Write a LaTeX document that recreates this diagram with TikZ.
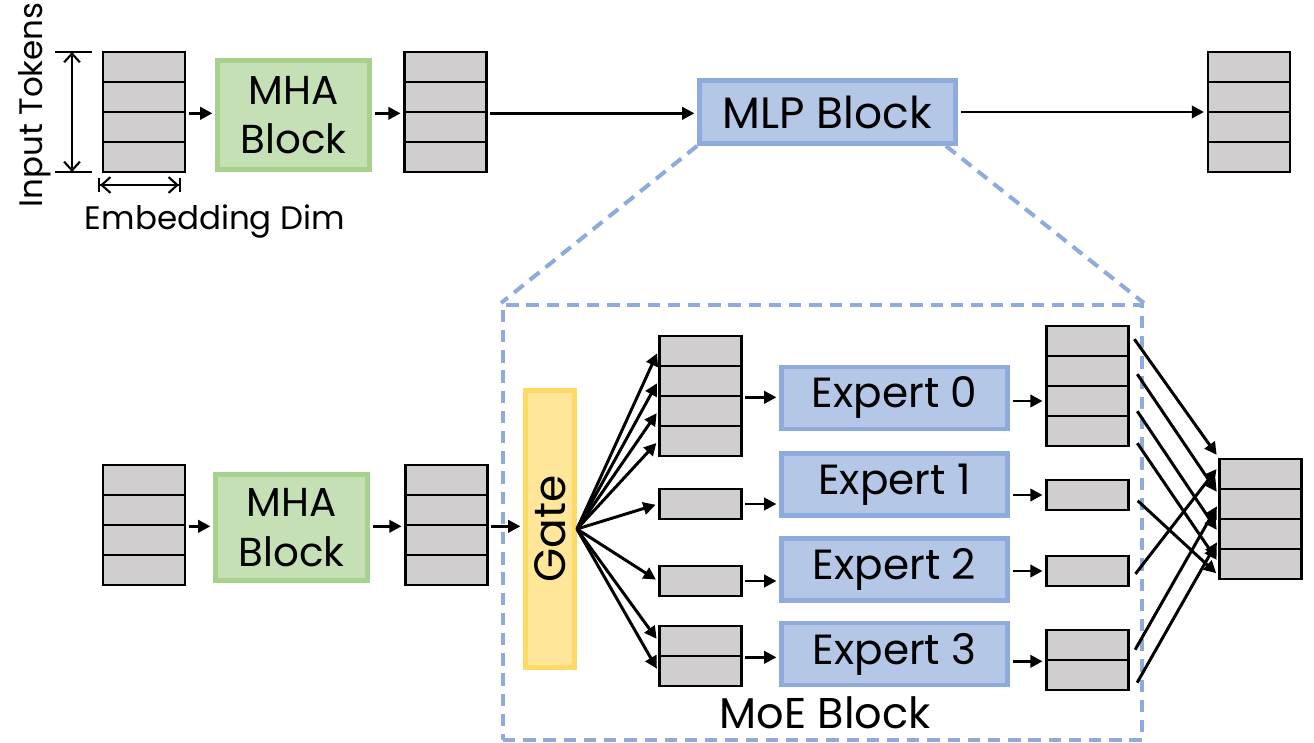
\documentclass[tikz,border=0pt]{standalone}
\usepackage{fontspec}
\setmainfont{Poppins}
\usetikzlibrary{arrows.meta,calc}

\definecolor{cellgray}{HTML}{D0CECE}
\definecolor{mhafill}{HTML}{C5E0B4}
\definecolor{mhaline}{HTML}{A9D18E}
\definecolor{mlpfill}{HTML}{B4C7E7}
\definecolor{mlpline}{HTML}{8FAADC}
\definecolor{gatefill}{HTML}{FFE699}
\definecolor{gateline}{HTML}{FFD966}

\begin{document}
\begin{tikzpicture}[x=0.02cm,y=-0.02cm,
  cell/.style={shape=rectangle,draw=black,fill=cellgray,line width=1.5pt,minimum width=1.64cm,minimum height=0.6cm,inner sep=0pt},
  mha/.style={shape=rectangle,draw=mhaline,fill=mhafill,line width=2.8pt,minimum width=3.04cm,align=center,font=\fontsize{23}{28}\selectfont},
  block/.style={shape=rectangle,draw=mlpline,fill=mlpfill,line width=2.8pt,font=\fontsize{24}{28}\selectfont},
  gatebox/.style={shape=rectangle,draw=gateline,fill=gatefill,line width=2.8pt,inner sep=0pt,minimum width=0.98cm,minimum height=5.54cm,font=\fontsize{25}{28}\selectfont},
  moebox/.style={shape=rectangle,draw=mlpline,line width=2.3pt,dash pattern=on 7pt off 4.5pt,minimum width=12.78cm,minimum height=8.7cm},
  dashline/.style={draw=mlpline,line width=2.3pt,dash pattern=on 7pt off 4.5pt},
  arr/.style={-{Triangle[length=7pt,width=7pt]},draw=black,line width=1.7pt,shorten <=1.5pt,shorten >=1.5pt},
  dim/.style={draw=black,line width=1.2pt},
  small/.style={font=\fontsize{18.5}{20}\selectfont}]
\useasboundingbox (0,0) rectangle (1314,743);

% zoomed MoE region (behind everything)
\node[moebox] (moe) at (822.5,522.5) {};

% top row
\node[cell] (ti1) at (144,67) {};
\node[cell] (ti2) at (144,97) {};
\node[cell] (ti3) at (144,127) {};
\node[cell] (ti4) at (144,157) {};
\node[mha,minimum height=2.18cm] (tmha) at (293.5,115) {MHA\\Block};
\node[cell] (tm1) at (445.5,67) {};
\node[cell] (tm2) at (445.5,97) {};
\node[cell] (tm3) at (445.5,127) {};
\node[cell] (tm4) at (445.5,157) {};
\node[block,font=\fontsize{25}{28}\selectfont,minimum width=5.12cm,minimum height=1.26cm] (mlp) at (827.5,112) {MLP Block};
\node[cell] (to1) at (1249,67) {};
\node[cell] (to2) at (1249,97) {};
\node[cell] (to3) at (1249,127) {};
\node[cell] (to4) at (1249,157) {};

\node[small,rotate=90] (tokens) at (35,105) {Input Tokens};
\node[small] (embdim) at (215,222) {Embedding Dim};
\coordinate (dimtop) at (72,52);
\coordinate (dimbot) at (72,172);
\coordinate (diml) at (98,185);
\coordinate (dimr) at (181,185);

% bottom row
\node[cell] (bi1) at (144,480) {};
\node[cell] (bi2) at (144,510) {};
\node[cell] (bi3) at (144,540) {};
\node[cell] (bi4) at (144,570) {};
\node[mha,minimum height=2.12cm] (bmha) at (291.5,527.5) {MHA\\Block};
\node[cell] (bm1) at (446.5,480) {};
\node[cell] (bm2) at (446.5,510) {};
\node[cell] (bm3) at (446.5,540) {};
\node[cell] (bm4) at (446.5,570) {};
\node[gatebox] (gate) at (550,529) {\rotatebox{90}{Gate}};

\node[cell] (g01) at (700.5,351) {};
\node[cell] (g02) at (700.5,381) {};
\node[cell] (g03) at (700.5,411) {};
\node[cell] (g04) at (700.5,441) {};
\node[cell] (g1) at (700.5,504) {};
\node[cell] (g2) at (700.5,581) {};
\node[cell] (g31) at (700.5,641) {};
\node[cell] (g32) at (700.5,671) {};

\node[block,minimum width=4.52cm,minimum height=1.24cm] (ex0) at (894.5,398) {Expert 0};
\node[block,minimum width=4.52cm,minimum height=1.24cm] (ex1) at (894.5,484.5) {Expert 1};
\node[block,minimum width=4.52cm,minimum height=1.24cm] (ex2) at (894.5,569.5) {Expert 2};
\node[block,minimum width=4.52cm,minimum height=1.24cm] (ex3) at (894.5,654) {Expert 3};

\node[cell] (o01) at (1087.5,341) {};
\node[cell] (o02) at (1087.5,371) {};
\node[cell] (o03) at (1087.5,401) {};
\node[cell] (o04) at (1087.5,431) {};
\node[cell] (o1) at (1087.5,495) {};
\node[cell] (o2) at (1087.5,571) {};
\node[cell] (o31) at (1087.5,645) {};
\node[cell] (o32) at (1087.5,675) {};

\node[cell] (f1) at (1260.5,474) {};
\node[cell] (f2) at (1260.5,504) {};
\node[cell] (f3) at (1260.5,534) {};
\node[cell] (f4) at (1260.5,564) {};

\node[font=\fontsize{24.5}{28}\selectfont] (moelbl) at (825,713) {MoE Block};

% zoom lines
\path (mlp.south west) edge [dashline] (moe.north west);
\path ($(mlp.south east)+(-12,0)$) edge [dashline] (moe.north east);

% dimensions
\path (dimtop) edge [dim,{Straight Barb[length=5pt,width=9pt]}-{Straight Barb[length=5pt,width=9pt]}] (dimbot);
\draw [dim] (55,52) -- (92,52);
\draw [dim] (55,172) -- (92,172);
\path (diml) edge [dim,{Bar[width=8pt]Straight Barb[length=5pt,width=9pt]}-{Straight Barb[length=5pt,width=9pt]Bar[width=8pt]}] (dimr);

% top arrows
\path (ti2.south east) edge [arr] (ti2.south east -| tmha.west);
\path (tmha.east |- tm2.south west) edge [arr] (tm2.south west);
\path (tm2.south east) edge [arr] (tm2.south east -| mlp.west);
\path (mlp.east) edge [arr] (mlp.east -| to2.south west);

% bottom arrows
\path (bi2.south east) edge [arr] (bi2.south east -| bmha.west);
\path (bmha.east |- bm2.south west) edge [arr] (bm2.south west);
\path (bm2.south east) edge [arr] (bm2.south east -| gate.west);

\path (gate.east) edge [arr,shorten <=0pt] (g01.west);
\path (gate.east) edge [arr,shorten <=0pt] (g02.west);
\path (gate.east) edge [arr,shorten <=0pt] (g03.west);
\path (gate.east) edge [arr,shorten <=0pt] (g04.west);
\path (gate.east) edge [arr,shorten <=0pt] (g1.west);
\path (gate.east) edge [arr,shorten <=0pt] (g2.west);
\path (gate.east) edge [arr,shorten <=0pt] (g31.west);
\path (gate.east) edge [arr,shorten <=0pt] (g32.west);

\path (g02.south east) edge [arr] (g02.south east -| ex0.west);
\path (g1.east) edge [arr] (g1.east -| ex1.west);
\path (g2.east) edge [arr] (g2.east -| ex2.west);
\path (g31.south east) edge [arr] (g31.south east -| ex3.west);

\path (ex0.east |- o03.west) edge [arr] (o03.west);
\path (ex1.east |- o1.west) edge [arr] (o1.west);
\path (ex2.east |- o2.west) edge [arr] (o2.west);
\path (ex3.east |- o31.south west) edge [arr] (o31.south west);

% tokens back to their places
\path ($(o01.east)+(3,-4)$) edge [arr] ($(f1.west)+(0,-17)$);
\path ($(o02.east)+(6,1)$) edge [arr] ($(f2.west)+(0,-10)$);
\path ($(o03.east)+(6,8)$) edge [arr] ($(f3.west)+(0,-2)$);
\path ($(o04.east)+(6,10)$) edge [arr] ($(f4.west)+(0,-2)$);
\path ($(o1.east)+(6,4)$) edge [arr] ($(f4.west)+(0,11)$);
\path ($(o2.east)+(4,5)$) edge [arr] ($(f1.west)+(0,-7)$);
\path ($(o31.east)+(4,7)$) edge [arr] ($(f2.west)+(0,0)$);
\path ($(o32.east)+(6,10)$) edge [arr] ($(f3.west)+(0,6)$);
\end{tikzpicture}
\end{document}
